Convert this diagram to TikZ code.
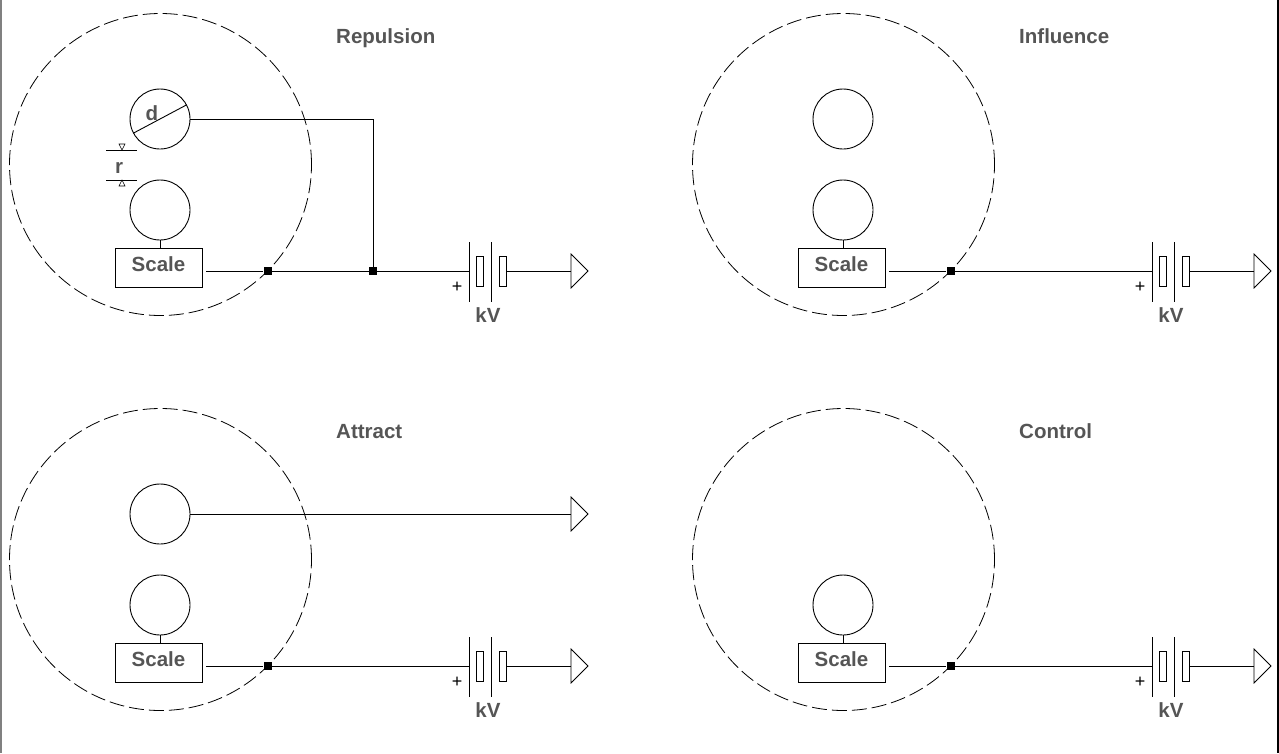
\documentclass[tikz,border=0pt]{standalone}
\usepackage{fontspec}
\setmainfont{Liberation Sans}
\definecolor{txt}{RGB}{85,85,85}
\tikzset{
  lbl/.style={font=\fontsize{20.5}{24}\selectfont\bfseries, text=txt, inner sep=0pt},
  bigc/.style={circle, draw, dash pattern=on 15pt off 5pt, line width=0.8pt, minimum size=302pt, inner sep=0pt},
  ball/.style={circle, draw, line width=0.9pt, minimum size=60pt, inner sep=0pt},
  scalebox/.style={draw, line width=0.9pt, minimum width=87pt, minimum height=39pt, inner sep=0pt,
    text height=15pt, text depth=8pt, font=\fontsize{20.5}{24}\selectfont\bfseries, text=txt},
  junc/.style={fill=black, minimum size=8pt, inner sep=0pt},
  plate/.style={draw, line width=0.9pt, minimum width=7pt, minimum height=30pt, inner sep=0pt},
  wire/.style={line width=0.9pt},
  plus/.style={font=\fontsize{18}{20}\selectfont, inner sep=0pt},
  tri/.style={line width=0.8pt, fill=white},
}
\newcommand\basepanel[3]{%
  \begin{scope}[shift={(#2,#3)}]
    \node[bigc] (#1-big) at (160.5,164.5) {};
    \node[ball] (#1-lower) at (160,210) {};
    \node[scalebox] (#1-scale) at (158.5,267.5) {Scale};
    \draw[wire] (#1-lower.south) -- (#1-lower.south |- #1-scale.north);
    \node[junc] (#1-j) at (267.5,271) {};
    \coordinate (#1-s) at ([xshift=4pt]#1-scale.east);
    \coordinate (#1-p1t) at (469,242);
    \coordinate (#1-p1b) at (469,302);
    \coordinate (#1-p1m) at (469,271);
    \coordinate (#1-p2t) at (491,242);
    \coordinate (#1-p2b) at (491,302);
    \node[plate] (#1-r1) at (479.5,271) {};
    \node[plate] (#1-r2) at (503,271) {};
    \coordinate (#1-arr) at (571,271);
    \draw[wire] (#1-s |- #1-j) -- (#1-j) -- (#1-p1m);
    \draw[wire] (#1-p1t) -- (#1-p1b);
    \draw[wire] (#1-p2t) -- (#1-p2b);
    \draw[wire] (#1-r2.east) -- (#1-arr);
    \draw[tri] (#1-arr) ++(0,-17) -- ++(17,17) -- ++(-17,17) -- cycle;
    \node[plus] (#1-plus) at (457,287) {+};
    \node[lbl, anchor=base] (#1-kv) at (488,322) {kV};
  \end{scope}}
\begin{document}
\begin{tikzpicture}[x=1pt,y=-1pt]
  \useasboundingbox (0,0) rectangle (1279,753);
  \fill[white] (0,0) rectangle (1279,753);
  \draw[gray, line width=2pt] (1,0) -- (1,753);
  \draw[black, line width=2pt] (1278,0) -- (1278,753);

  % Panel A: Repulsion
  \basepanel{a}{0}{0}
  \node[ball] (a-upper) at (160,119) {};
  \draw[wire] (a-upper.208) -- (a-upper.28);
  \node[lbl, anchor=base] (a-d) at (152,120) {d};
  \node[junc] (a-j2) at (373,271) {};
  \draw[wire] (a-upper.east) -| (a-j2);
  \draw[line width=0.7pt] (106,150) -- (137,150);
  \draw[line width=0.7pt] (106,180) -- (137,180);
  \draw[line width=0.6pt] (119,144) -- (125,144) -- (122,150) -- cycle;
  \draw[line width=0.6pt] (119,186) -- (125,186) -- (122,180) -- cycle;
  \node[lbl, anchor=base] (a-r) at (119,173) {r};
  \node[lbl, anchor=base west] (a-title) at (336,43) {Repulsion};

  % Panel B: Influence
  \basepanel{b}{683}{0}
  \node[ball] (b-upper) at (843,119) {};
  \node[lbl, anchor=base west] (b-title) at (1019,43) {Influence};

  % Panel C: Attract
  \basepanel{c}{0}{395}
  \node[ball] (c-upper) at (160,514) {};
  \coordinate (c-arrow) at (571,514);
  \draw[wire] (c-upper.east) -- (c-arrow);
  \draw[tri] (c-arrow) ++(0,-17) -- ++(17,17) -- ++(-17,17) -- cycle;
  \node[lbl, anchor=base west] (c-title) at (336,438) {Attract};

  % Panel D: Control
  \basepanel{d}{683}{395}
  \node[lbl, anchor=base west] (d-title) at (1019,438) {Control};
\end{tikzpicture}
\end{document}
